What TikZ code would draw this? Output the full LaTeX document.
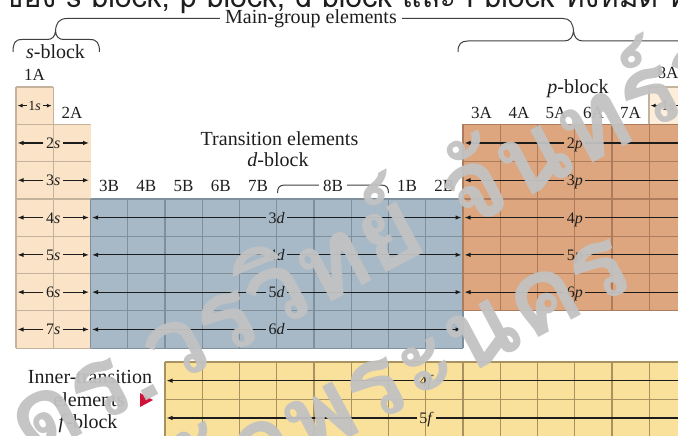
\documentclass[tikz,border=0pt]{standalone}
\usepackage{fontspec}
\setmainfont{Liberation Serif}
\newfontfamily\thaifont[Script=Thai]{Loma}
\usetikzlibrary{arrows.meta}
\definecolor{scol}{RGB}{250,227,198}
\definecolor{slight}{RGB}{253,238,219}
\definecolor{dcol}{RGB}{167,185,198}
\definecolor{pcol}{RGB}{221,166,126}
\definecolor{fcol}{RGB}{250,225,155}
\definecolor{sgridc}{RGB}{196,178,156}
\definecolor{dgridc}{RGB}{128,143,156}
\definecolor{pgridc}{RGB}{172,124,92}
\definecolor{fgridc}{RGB}{168,146,96}
\definecolor{arrc}{RGB}{28,28,28}
\definecolor{txtc}{RGB}{30,30,30}
\definecolor{wmc}{RGB}{194,194,194}
\definecolor{tric}{RGB}{208,18,58}
\begin{document}
\begin{tikzpicture}[x=1pt,y=-1pt,
  sgrid/.style={draw=sgridc,line width=1.2pt},
  dgrid/.style={draw=dgridc,line width=1.2pt},
  pgrid/.style={draw=pgridc,line width=1.2pt},
  fgrid/.style={draw=fgridc,line width=1.2pt},
  grp/.style={font=\fontsize{17}{17}\selectfont,inner sep=0pt,anchor=base,text=txtc},
  ttl/.style={font=\fontsize{20}{22}\selectfont,inner sep=0pt,anchor=base,text=txtc},
  orb/.style={font=\fontsize{16}{16}\selectfont,inner sep=2.5pt,anchor=base,text=txtc},
  orbsmall/.style={font=\fontsize{14}{14}\selectfont,inner sep=1.5pt,anchor=base,text=txtc},
  tipped/.style={draw=arrc,line width=1.1pt,-{Latex[length=6pt,width=4.5pt]}},
  tippedsmall/.style={draw=arrc,line width=1pt,-{Latex[length=5pt,width=4pt]}},
  plain/.style={draw=arrc,line width=1.1pt},
  brace/.style={draw=black!75,line width=1pt},
  wm/.style={font=\thaifont\bfseries\fontsize{104}{104}\selectfont,text=wmc,inner sep=0pt,rotate=28,opacity=0.95},
]
\clip (0,0) rectangle (678,436);
\fill[white] (0,0) rectangle (678,436);

% ---------- top cut-off text ----------
\node[font=\thaifont\fontsize{30}{30}\selectfont,anchor=base west,inner sep=0pt,text=txtc] (toptxt) at (3,7.5) {ของ s block, p block, d block และ f block ทั้งหมด ที่แสดงไว้};

% ---------- block fills ----------
\fill[scol] (16,87) rectangle (53.25,348.1);
\fill[scol] (53.25,124.3) rectangle (90.5,348.1);
\fill[dcol] (90.5,198.9) rectangle (463,348.1);
\fill[pcol] (463,124.3) rectangle (690,310.8);
\fill[slight] (649,87) rectangle (690,124.3);
\fill[fcol] (165,362) rectangle (690,440);

% ---------- grids ----------
\draw[sgrid] (16,87) -- (16,348.1);
\draw[sgrid] (53.25,87) -- (53.25,348.1);
\draw[sgrid] (16,87) -- (53.25,87);
\foreach \r in {0,...,6}{
  \draw[sgrid] (16,{124.3+\r*37.3}) -- (90.5,{124.3+\r*37.3});
}
\foreach \c in {0,...,10}{
  \draw[dgrid] ({90.5+\c*37.25},198.9) -- ({90.5+\c*37.25},348.1);
}
\foreach \r in {0,...,4}{
  \draw[dgrid] (90.5,{198.9+\r*37.3}) -- (463,{198.9+\r*37.3});
}
\foreach \c in {0,...,6}{
  \draw[pgrid] ({463+\c*37.25},124.3) -- ({463+\c*37.25},310.8);
}
\foreach \r in {0,...,5}{
  \draw[pgrid] (463,{124.3+\r*37.3}) -- (690,{124.3+\r*37.3});
}
\draw[sgrid] (649,124.3) -- (649,87) -- (690,87);
\foreach \c in {0,...,14}{
  \draw[fgrid] ({165+\c*37.25},362) -- ({165+\c*37.25},440);
}
\foreach \r in {0,...,2}{
  \draw[fgrid] (165,{362+\r*37.3}) -- (690,{362+\r*37.3});
}

% ---------- s orbitals ----------
\coordinate (sL1) at (17.5,105.6);
\coordinate (sR1) at (51.8,105.6);
\node[orbsmall] (sl1) at (34.6,110.5) {1\textit{s}};
\draw[tippedsmall] (sl1.west |- sL1) -- (sL1);
\draw[tippedsmall] (sl1.east |- sR1) -- (sR1);
\foreach \r in {2,...,7}{
  \pgfmathsetmacro\yy{87+(\r-0.5)*37.3}
  \coordinate (sL\r) at (17.5,\yy);
  \coordinate (sR\r) at (89,\yy);
  \node[orb] (sl\r) at (53.25,\yy+5.5) {\r\textit{s}};
  \draw[tipped] (sl\r.west |- sL\r) -- (sL\r);
  \draw[tipped] (sl\r.east |- sR\r) -- (sR\r);
}
\coordinate (heL) at (650.5,105.6);
\coordinate (heR) at (690,105.6);
\node[orbsmall] (hel) at (667.75,110.5) {1\textit{s}};
\draw[tippedsmall] (hel.west |- heL) -- (heL);
\draw[plain] (hel.east |- heR) -- (heR);

% ---------- d orbitals ----------
\foreach \r/\n in {4/3,5/4,6/5,7/6}{
  \pgfmathsetmacro\yy{87+(\r-0.5)*37.3}
  \coordinate (dL\r) at (92,\yy);
  \coordinate (dR\r) at (461.5,\yy);
  \node[orb] (dl\r) at (276.75,\yy+5.5) {\n\textit{d}};
  \draw[tipped] (dl\r.west |- dL\r) -- (dL\r);
  \draw[tipped] (dl\r.east |- dR\r) -- (dR\r);
}

% ---------- p orbitals ----------
\foreach \r in {2,...,6}{
  \pgfmathsetmacro\yy{87+(\r-0.5)*37.3}
  \coordinate (pL\r) at (464.5,\yy);
  \coordinate (pR\r) at (690,\yy);
  \node[orb] (pl\r) at (574.75,\yy+5.5) {\r\textit{p}};
  \draw[tipped] (pl\r.west |- pL\r) -- (pL\r);
  \draw[plain] (pl\r.east |- pR\r) -- (pR\r);
}

% ---------- f orbitals ----------
\foreach \r/\n in {0/4,1/5}{
  \pgfmathsetmacro\yy{362+(\r+0.5)*37.3}
  \coordinate (fL\r) at (166.5,\yy);
  \coordinate (fR\r) at (690,\yy);
  \node[orb] (fl\r) at (426.5,\yy+5.5) {\n\textit{f}};
  \draw[tipped] (fl\r.west |- fL\r) -- (fL\r);
  \draw[plain] (fl\r.east |- fR\r) -- (fR\r);
}

% ---------- group labels ----------
\node[grp] (g1A) at (34.6,80.7) {1A};
\node[grp] (g2A) at (71.9,118.3) {2A};
\node[grp] (g3B) at (109.1,191.5) {3B};
\node[grp] (g4B) at (146.4,191.5) {4B};
\node[grp] (g5B) at (183.6,191.5) {5B};
\node[grp] (g6B) at (220.9,191.5) {6B};
\node[grp] (g7B) at (258.1,191.5) {7B};
\node[grp] (g8B) at (333,191.5) {8B};
\node[grp] (g1B) at (407.1,191.5) {1B};
\node[grp] (g2B) at (444.4,191.5) {2B};
\node[grp] (g3A) at (481.6,118.3) {3A};
\node[grp] (g4A) at (518.9,118.3) {4A};
\node[grp] (g5A) at (556.1,118.3) {5A};
\node[grp] (g6A) at (593.4,118.3) {6A};
\node[grp] (g7A) at (630.6,118.3) {7A};
\node[grp] (g8A) at (667.9,78.3) {8A};

\coordinate (bline) at (0,185);
\draw[brace] (277.5,193) .. controls (277.5,187.5) and (279.5,185) .. (285,185) -- ([xshift=-4pt]g8B.west |- bline);
\draw[brace] ([xshift=4pt]g8B.east |- bline) -- (381,185) .. controls (386.5,185) and (388.5,187.5) .. (388.5,193);

% ---------- titles ----------
\node[ttl] (tr) at (279.5,145) {Transition elements};
\node[ttl] (db) at (278,166.7) {\textit{d}-block};
\node[ttl] (sb) at (55.5,59) {\textit{s}-block};
\node[ttl] (pb) at (578,93) {\textit{p}-block};
\node[ttl] (mg) at (311,24) {Main-group elements};
\node[ttl] (it1) at (90,383) {Inner-transition};
\node[ttl] (it2) at (89,406) {elements};
\node[ttl] (it3) at (88,428) {\textit{f}-block};
\fill[tric] (140,393) -- (140,407) -- (153,400) -- cycle;

% ---------- braces ----------
\coordinate (mgline) at (0,18.5);
\coordinate (stip) at (55.5,31);
\coordinate (ptip) at (573.5,31);
\draw[brace] (13,52) .. controls (13,43) and (15,39.5) .. (22,39.5) -- (47,39.5)
  .. controls (52,39.5) and (55,37) .. (stip)
  .. controls (56,37) and (59,39.5) .. (64,39.5) -- (90,39.5)
  .. controls (97,39.5) and (99.5,43) .. (99.5,52);
\draw[brace] (stip) .. controls (56,23) and (59,18.5) .. (67,18.5) -- ([xshift=-5pt]mg.west |- mgline);
\draw[brace] ([xshift=5pt]mg.east |- mgline) -- (563,18.5) .. controls (570,18.5) and (573,23) .. (ptip);
\draw[brace] (458,52) .. controls (458,44) and (461,41) .. (468,41) -- (564,41)
  .. controls (570,41) and (573,37) .. (ptip)
  .. controls (574,37) and (577,41) .. (583,41) -- (690,41);

% ---------- watermark ----------
\node[wm,anchor=base west] (wm1) at (30,462) {ดร.วรวิทย์ จันทร์สุวรรณ};
\node[wm,anchor=base west] (wm2b) at (305,462) {พระนคร};
\node[wm,anchor=base east] (wm2a) at (wm2b.base west) {มหาวิทยาลัยราชภัฏ};
\end{tikzpicture}
\end{document}
